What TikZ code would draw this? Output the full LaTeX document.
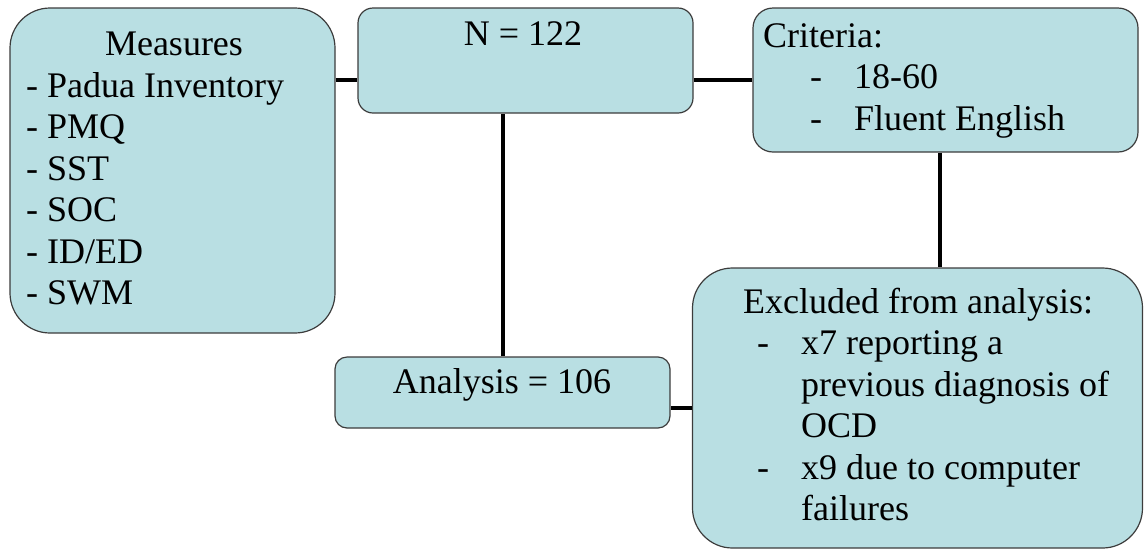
\documentclass[tikz,border=0pt]{standalone}
\usepackage{fontspec}
\setmainfont{Liberation Serif}
\definecolor{boxfill}{RGB}{185,223,227}
\definecolor{boxline}{RGB}{60,60,60}
\newcommand{\dashitem}{\makebox[44pt][l]{-}}
\newcommand{\dashgap}{\hspace*{44pt}}
\newcommand{\textlines}[1]{\begin{tabular}[t]{@{}l@{}}#1\end{tabular}}
\begin{document}
\begin{tikzpicture}[x=1pt,y=-1pt,
  box node/.style={draw=boxline,fill=boxfill,line width=1.2pt,inner sep=0pt},
  txt/.style={inner sep=0pt,font=\fontsize{36}{41.5}\selectfont},
  link/.style={line width=4pt}]
  \useasboundingbox (0,0) rectangle (1145,550);

  % boxes
  \node[box node,rounded corners=40pt,minimum width=325pt,minimum height=325pt] (measures) at (172.5,170.5) {};
  \node[box node,rounded corners=15pt,minimum width=335pt,minimum height=105pt] (n) at (525.5,60.5) {};
  \node[box node,rounded corners=20pt,minimum width=385pt,minimum height=144pt] (criteria) at (945.5,80) {};
  \node[box node,rounded corners=12pt,minimum width=335pt,minimum height=71pt] (analysis) at (502.5,392.5) {};
  \node[box node,rounded corners=40pt,minimum width=450pt,minimum height=280pt] (excluded) at (917.5,408) {};

  % texts
  \node[txt,anchor=base] (measurestitle) at (174,55) {Measures};
  \node[txt,anchor=base west] (measureslist) at (26,97) {\textlines{- Padua Inventory\\- PMQ\\- SST\\- SOC\\- ID/ED\\- SWM}};
  \node[txt,anchor=base] (ntext) at (523,45) {N = 122};
  \node[txt,anchor=base west] (criteriatext) at (763,47) {\textlines{Criteria:\\\hspace*{47pt}\dashitem 18-60\\\hspace*{47pt}\dashitem Fluent English}};
  \node[txt,anchor=base] (analysistext) at (502,393) {Analysis = 106};
  \node[txt,anchor=base west] (excludedtext) at (743,313) {\textlines{Excluded from analysis:\\\hspace*{14pt}\dashitem x7 reporting a\\\hspace*{14pt}\dashgap previous diagnosis of\\\hspace*{14pt}\dashgap OCD\\\hspace*{14pt}\dashitem x9 due to computer\\\hspace*{14pt}\dashgap failures}};

  % connectors
  \draw[link] (measures.east |- criteria.west) -- (n.west |- criteria.west);
  \draw[link] (n.east |- criteria.west) -- (criteria.west);
  \draw[link] (analysis.north) -- (analysis.north |- n.south);
  \draw[link] ([xshift=-6pt]criteria.south) -- ([xshift=-6pt]criteria.south |- excluded.north);
  \draw[link] (excluded.west) -- (excluded.west -| analysis.east);
\end{tikzpicture}
\end{document}
